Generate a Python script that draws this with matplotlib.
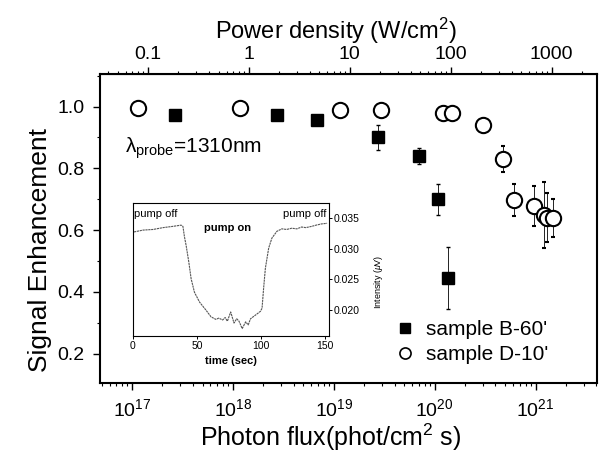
import matplotlib
matplotlib.use("Agg")
from matplotlib import pyplot as plt
from matplotlib.lines import Line2D
from matplotlib.ticker import LogLocator, MultipleLocator, NullFormatter
import numpy as np

plt.rcParams['font.family'] = ['Liberation Sans', 'DejaVu Sans']
plt.rcParams['mathtext.fontset'] = 'custom'
plt.rcParams['mathtext.rm'] = 'Liberation Sans'
plt.rcParams['mathtext.it'] = 'Liberation Sans:italic'
plt.rcParams['mathtext.bf'] = 'Liberation Sans:bold'

# sample B-60' (filled squares)
flux_b = [2.67e17, 2.72e18, 6.76e18, 2.72e19, 6.92e19, 1.08e20, 1.36e20]
sig_b = [0.971, 0.971, 0.957, 0.90, 0.84, 0.70, 0.445]
err_b = [0.0, 0.004, 0.0, 0.04, 0.026, 0.05, 0.10]

# sample D-10' (open circles)
flux_d = [1.15e17, 1.17e18, 1.15e19, 2.95e19, 1.20e20, 1.50e20, 2.99e20,
          4.79e20, 6.11e20, 9.70e20, 1.22e21, 1.29e21, 1.47e21]
sig_d = [0.995, 0.995, 0.99, 0.99, 0.98, 0.98, 0.94,
         0.83, 0.697, 0.677, 0.65, 0.64, 0.64]
err_d = [0.008, 0.008, 0.008, 0.008, 0.0, 0.0, 0.0,
         0.043, 0.053, 0.065, 0.107, 0.08, 0.062]

# inset trace: intensity (uV) vs time (sec)
t_trace = [0.8, 8, 15.7, 23.5, 31, 37.6, 39, 40.2, 41.5, 43.6, 45.4, 48, 52, 57,
           61, 64.7, 67, 70, 72, 73.7, 76.3, 78.9, 81, 82.8, 85.3, 88, 90,
           91.8, 95.7, 99.5, 100.8, 102, 103.4, 106, 108.5, 112.4, 116.3,
           120, 124, 128, 131.7, 135, 139.5, 143, 147.2, 151.6]
i_trace = [0.0327, 0.0330, 0.0331, 0.0334, 0.0336, 0.0338, 0.0336, 0.0319,
           0.0305, 0.0278, 0.0251, 0.0229, 0.0213, 0.0200, 0.0189, 0.0185,
           0.0187, 0.0184, 0.0188, 0.0182, 0.0197, 0.0179, 0.0186, 0.0182,
           0.0170, 0.0181, 0.0176, 0.0186, 0.0192, 0.0198, 0.0203, 0.0235,
           0.0268, 0.0301, 0.0317, 0.0328, 0.0332, 0.0331, 0.0333, 0.0332,
           0.0335, 0.0334, 0.0336, 0.0338, 0.0340, 0.0341]

conv = 10 ** 18.159  # photons/cm2 s per W/cm2

fig = plt.figure(figsize=(6.16, 4.53), dpi=100)
ax = fig.add_axes([0.1623, 0.1545, 0.8067, 0.682])

ax.errorbar(flux_b, sig_b, yerr=err_b, fmt='s', color='black', ms=9,
            ecolor='black', elinewidth=0.6, capsize=1.5)
ax.errorbar(flux_d, sig_d, yerr=err_d, fmt='o', mfc='white', mec='black',
            mew=1.5, ms=11, ecolor='black', elinewidth=0.6, capsize=1.5)

ax.set_xscale('log')
ax.set_xlim(10 ** 16.683, 10 ** 21.607)
ax.set_ylim(0.105, 1.105)
ax.yaxis.set_minor_locator(MultipleLocator(0.1))
ax.set_yticks([0.2, 0.4, 0.6, 0.8, 1.0])
ax.set_yticklabels(['0.2', '0.4', '0.6', '0.8', '1.0'])
ax.xaxis.set_major_locator(LogLocator(base=10, numticks=10))
ax.xaxis.set_minor_locator(LogLocator(base=10, subs=np.arange(2, 10), numticks=20))
ax.xaxis.set_minor_formatter(NullFormatter())
ax.tick_params(which='both', direction='out', labelsize=14, right=False, top=False)
ax.tick_params(which='major', length=5, width=1, pad=6)
ax.tick_params(which='minor', length=2.5, width=0.8)
for s in ax.spines.values():
    s.set_linewidth(1.5)

ax.set_xlabel(r"Photon flux(phot/cm$^2$ s)", fontsize=18, labelpad=1)
ax.xaxis.label.set_x(0.465)
ax.set_ylabel("Signal Enhancement", fontsize=19, labelpad=4)
ax.yaxis.label.set_y(0.43)

top = ax.secondary_xaxis('top', functions=(lambda f: f / conv, lambda p: p * conv))
top.xaxis.set_minor_locator(LogLocator(base=10, subs=np.arange(2, 10), numticks=20))
top.xaxis.set_minor_formatter(NullFormatter())
top.set_xticks([0.1, 1, 10, 100, 1000])
top.set_xticklabels(['0.1', '1', '10', '100', '1000'])
top.tick_params(which='both', direction='out', labelsize=14)
top.tick_params(which='major', length=5, width=1, pad=3)
top.tick_params(which='minor', length=2.5, width=0.8)
top.set_xlabel(r"Power density (W/cm$^2$)", fontsize=17, labelpad=5)
top.xaxis.label.set_x(0.475)

ax.text(10 ** 16.66 * 1.85, 0.85, "λ$_{\\rm probe}$=1310nm", fontsize=15)

handles = [Line2D([], [], ls='none', marker='s', color='black', ms=7),
           Line2D([], [], ls='none', marker='o', mfc='white', mec='black', mew=1.2, ms=8)]
ax.legend(handles, ["sample B-60'", "sample D-10'"], loc='center left',
          bbox_to_anchor=(0.593, 0.133), frameon=False, fontsize=15,
          handletextpad=0.5, borderaxespad=0, borderpad=0,
          labelspacing=0.3, handlelength=1.0)

# inset
ins = fig.add_axes([0.2159, 0.2583, 0.318, 0.2936])
ins.plot(t_trace, i_trace, color='#555555', lw=0.8, ls=(0, (2, 0.6)))
ins.set_xlim(0, 153)
ins.set_ylim(0.0158, 0.0374)
ins.set_xticks([0, 50, 100, 150])
ins.set_yticks([0.020, 0.025, 0.030, 0.035])
ins.set_yticklabels(['0.020', '0.025', '0.030', '0.035'])
ins.yaxis.tick_right()
ins.yaxis.set_label_position('right')
ins.tick_params(direction='out', labelsize=7.5, length=2, width=0.7, pad=1.5)
ins.set_xlabel("time (sec)", fontsize=8, fontweight='bold', labelpad=4)
ins.set_ylabel(r"Intensity ($\mu$V)", fontsize=6.5)
ins.yaxis.set_label_coords(1.22, 0.41)
for s in ins.spines.values():
    s.set_linewidth(0.8)
ins.text(1, 0.0356, "pump off", fontsize=8, va='center')
ins.text(151, 0.0356, "pump off", fontsize=8, ha='right', va='center')
ins.text(73.5, 0.0334, "pump on", fontsize=8, fontweight='bold', ha='center', va='center')

fig.savefig("out.png", dpi=100)
